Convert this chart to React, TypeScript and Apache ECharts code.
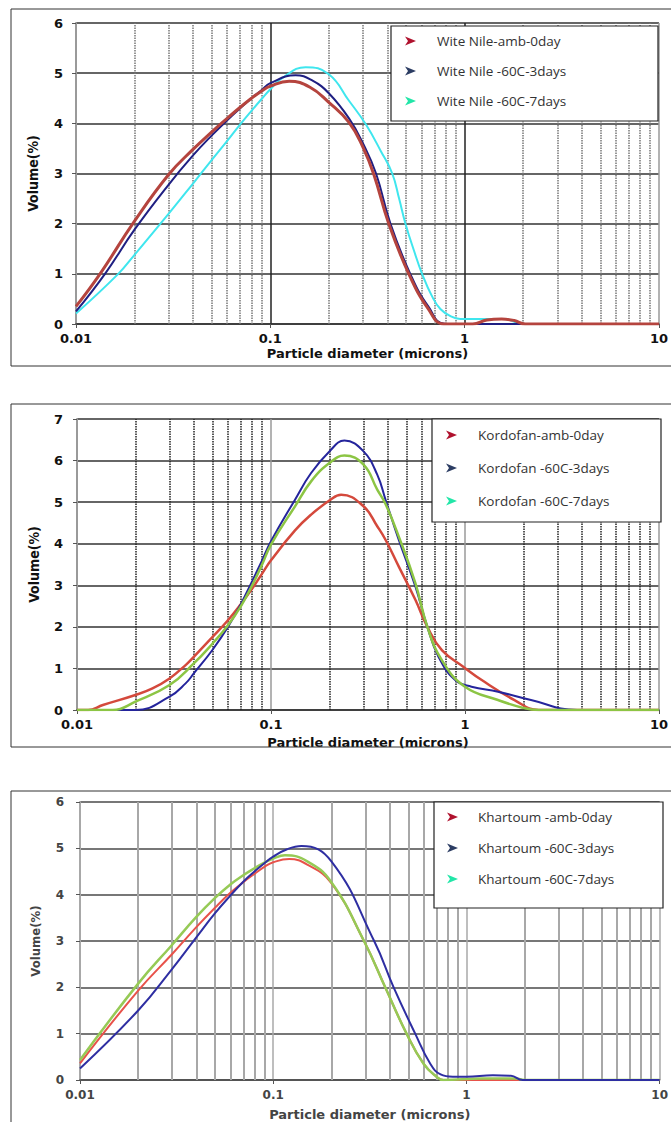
import React, { useEffect, useRef } from 'react';
import * as echarts from 'echarts';

// ---------- shared axis data ----------
const xTickLabels = ['0.01', '0.1', '1', '10'];
const minorTicks = [0.02, 0.03, 0.04, 0.05, 0.06, 0.07, 0.08, 0.09, 0.2, 0.3, 0.4, 0.5, 0.6, 0.7, 0.8, 0.9, 2, 3, 4, 5, 6, 7, 8, 9];
const legendArrowColors = ['#b0122e', '#2c3d63', '#22e6a8'];

// ---------- Panel 1: Wite Nile ----------
const wnNames = ['Wite Nile-amb-0day', 'Wite Nile -60C-3days', 'Wite Nile -60C-7days'];
const wnAmbX = [0.01, 0.0133, 0.02, 0.03, 0.04, 0.05, 0.06, 0.07, 0.08, 0.09, 0.1, 0.125, 0.16, 0.2, 0.254, 0.3, 0.341, 0.407, 0.516, 0.65, 0.78, 1.1, 1.3, 1.55, 1.8, 2.05, 10];
const wnAmbY = [0.35, 1.0, 2.05, 2.98, 3.48, 3.83, 4.1, 4.32, 4.5, 4.64, 4.74, 4.84, 4.72, 4.42, 4.02, 3.52, 2.98, 2.0, 1.0, 0.3, 0, 0, 0.08, 0.1, 0.07, 0, 0];
const wn3X = [0.01, 0.0141, 0.02, 0.03, 0.04, 0.05, 0.06, 0.07, 0.08, 0.09, 0.1, 0.135, 0.165, 0.2, 0.254, 0.3, 0.35, 0.415, 0.525, 0.65, 0.8, 10];
const wn3Y = [0.25, 1.0, 1.88, 2.78, 3.36, 3.76, 4.06, 4.3, 4.5, 4.66, 4.8, 4.96, 4.85, 4.6, 4.1, 3.6, 3.0, 2.0, 1.0, 0.35, 0, 0];
const wn7X = [0.01, 0.0165, 0.02, 0.03, 0.04, 0.05, 0.06, 0.07, 0.08, 0.09, 0.1, 0.115, 0.152, 0.2, 0.254, 0.31, 0.37, 0.424, 0.46, 0.496, 0.55, 0.604, 0.68, 0.75, 0.85, 0.95, 1.2, 1.6, 2.0, 10];
const wn7Y = [0.21, 1.0, 1.38, 2.2, 2.8, 3.27, 3.65, 3.98, 4.25, 4.48, 4.68, 4.9, 5.12, 4.98, 4.45, 3.98, 3.45, 3.0, 2.5, 2.0, 1.45, 1.0, 0.55, 0.3, 0.15, 0.1, 0.1, 0.1, 0, 0];

// ---------- Panel 2: Kordofan ----------
const kdNames = ['Kordofan-amb-0day', 'Kordofan -60C-3days', 'Kordofan -60C-7days'];
const kdAmbX = [0.01, 0.0114, 0.0136, 0.02, 0.0245, 0.03, 0.0363, 0.04, 0.05, 0.06, 0.07, 0.08, 0.09, 0.1, 0.133, 0.161, 0.2, 0.23, 0.3, 0.353, 0.39, 0.456, 0.555, 0.64, 0.76, 0.98, 1.22, 1.8, 2.4, 10];
const kdAmbY = [0, 0, 0.12, 0.36, 0.52, 0.76, 1.08, 1.28, 1.76, 2.16, 2.55, 2.92, 3.28, 3.6, 4.32, 4.7, 5.04, 5.18, 4.9, 4.42, 4.09, 3.45, 2.65, 2.0, 1.44, 1.04, 0.72, 0.24, 0, 0];
const kd3X = [0.01, 0.02, 0.03, 0.0363, 0.04, 0.05, 0.06, 0.07, 0.08, 0.09, 0.1, 0.133, 0.161, 0.2, 0.239, 0.3, 0.353, 0.39, 0.456, 0.555, 0.64, 0.73, 0.89, 1.08, 1.48, 2.19, 3.79, 10];
const kd3Y = [0, 0, 0.32, 0.64, 0.88, 1.45, 2.0, 2.55, 3.1, 3.6, 4.06, 5.06, 5.7, 6.22, 6.48, 6.22, 5.66, 5.05, 4.09, 2.97, 2.0, 1.28, 0.72, 0.56, 0.44, 0.24, 0, 0];
const kd7X = [0.01, 0.0153, 0.02, 0.03, 0.04, 0.05, 0.06, 0.07, 0.08, 0.09, 0.1, 0.133, 0.161, 0.2, 0.239, 0.3, 0.353, 0.39, 0.456, 0.555, 0.64, 0.76, 1.0, 1.48, 2.0, 2.4, 10];
const kd7Y = [0, 0, 0.2, 0.6, 1.12, 1.6, 2.04, 2.5, 3.0, 3.5, 3.98, 4.9, 5.5, 5.94, 6.12, 5.9, 5.3, 4.95, 4.17, 3.05, 2.0, 1.2, 0.56, 0.24, 0.05, 0, 0];

// ---------- Panel 3: Khartoum ----------
const khNames = ['Khartoum -amb-0day', 'Khartoum -60C-3days', 'Khartoum -60C-7days'];
const khAmbX = [0.01, 0.02, 0.03, 0.04, 0.05, 0.06, 0.07, 0.08, 0.09, 0.1, 0.121, 0.15, 0.2, 0.295, 0.38, 0.49, 0.6, 0.7, 0.76, 10];
const khAmbY = [0.36, 1.93, 2.72, 3.3, 3.72, 4.04, 4.27, 4.45, 4.6, 4.7, 4.77, 4.65, 4.25, 3.0, 2.0, 1.0, 0.35, 0.07, 0, 0];
const kh3X = [0.01, 0.02, 0.03, 0.04, 0.05, 0.06, 0.07, 0.08, 0.09, 0.1, 0.118, 0.14, 0.2, 0.333, 0.42, 0.543, 0.65, 0.735, 0.85, 1.0, 1.37, 1.7, 1.95, 10];
const kh3Y = [0.25, 1.5, 2.4, 3.08, 3.6, 3.98, 4.28, 4.5, 4.68, 4.82, 4.98, 5.05, 4.72, 3.0, 2.0, 1.0, 0.35, 0.12, 0.07, 0.07, 0.1, 0.09, 0, 0];
const kh7X = [0.01, 0.02, 0.03, 0.04, 0.05, 0.06, 0.07, 0.08, 0.09, 0.1, 0.115, 0.15, 0.2, 0.295, 0.38, 0.49, 0.6, 0.7, 0.76, 1.2, 1.8, 2.0, 10];
const kh7Y = [0.43, 2.08, 2.92, 3.52, 3.93, 4.22, 4.42, 4.57, 4.69, 4.78, 4.85, 4.72, 4.27, 3.0, 2.0, 1.0, 0.35, 0.07, 0, 0.03, 0.03, 0, 0];

const zip = (xs: number[], ys: number[]) => xs.map((x, i) => [x, ys[i]]);

type Panel = {
  grid: { left: number; top: number; width: number; height: number };
  yMax: number;
  names: string[];
  data: number[][][];
  colors: string[];
  widths: number[];
  drawOrder: number[];
  box: { x: number; y: number; w: number; h: number };
  legendBox: { x: number; y: number; w: number; h: number };
  legendPos: { left: number; top: number; itemGap: number; textPad: number };
  hGrid: string;
  vMajor: string[];
  minor: { color: string; type: any; width: number };
  yAxisLine: string;
  labelColor: string;
  labelSize: number;
  xLabelMargin: number;
  yLabelMargin: number;
  xNameGap: number;
  yNameGap: number;
};

const panels: Panel[] = [
  {
    grid: { left: 76, top: 23, width: 584, height: 301 },
    yMax: 6,
    names: wnNames,
    data: [zip(wnAmbX, wnAmbY), zip(wn3X, wn3Y), zip(wn7X, wn7Y)],
    colors: ['#b5443e', '#1f1f82', '#3fe6ee'],
    widths: [3, 2, 2],
    drawOrder: [2, 1, 0],
    box: { x: 11, y: 9, w: 665, h: 357 },
    legendBox: { x: 391, y: 26, w: 267, h: 95 },
    legendPos: { left: 405, top: 33, itemGap: 14, textPad: 16 },
    hGrid: '#333333',
    vMajor: ['#9a9a9a', '#222222', '#222222', '#9a9a9a'],
    minor: { color: '#777777', type: [1.5, 1], width: 1.5 },
    yAxisLine: '#9a9a9a',
    labelColor: '#111111',
    labelSize: 13,
    xLabelMargin: 8,
    yLabelMargin: 13,
    xNameGap: 23,
    yNameGap: 36,
  },
  {
    grid: { left: 77, top: 419, width: 583, height: 291 },
    yMax: 7,
    names: kdNames,
    data: [zip(kdAmbX, kdAmbY), zip(kd3X, kd3Y), zip(kd7X, kd7Y)],
    colors: ['#d4493c', '#24249c', '#8cc544'],
    widths: [2.5, 2, 2.5],
    drawOrder: [0, 1, 2],
    box: { x: 11, y: 404, w: 665, h: 343 },
    legendBox: { x: 432, y: 419, w: 229, h: 103 },
    legendPos: { left: 446, top: 427, itemGap: 17, textPad: 16 },
    hGrid: '#333333',
    vMajor: ['#9a9a9a', '#9a9a9a', '#9a9a9a', '#9a9a9a'],
    minor: { color: '#222222', type: [1.5, 1], width: 1.5 },
    yAxisLine: '#9a9a9a',
    labelColor: '#111111',
    labelSize: 13,
    xLabelMargin: 8,
    yLabelMargin: 14,
    xNameGap: 26,
    yNameGap: 36,
  },
  {
    grid: { left: 80, top: 802, width: 583, height: 280 },
    yMax: 6,
    names: khNames,
    data: [zip(khAmbX, khAmbY), zip(kh3X, kh3Y), zip(kh7X, kh7Y)],
    colors: ['#e8524a', '#2e2ea2', '#96ca56'],
    widths: [2, 2, 2.5],
    drawOrder: [0, 2, 1],
    box: { x: 11, y: 791, w: 665, h: 340 },
    legendBox: { x: 434, y: 802, w: 229, h: 106 },
    legendPos: { left: 447, top: 809, itemGap: 15, textPad: 15 },
    hGrid: '#4a4a4a',
    vMajor: ['#a8a8a8', '#a8a8a8', '#a8a8a8', '#a8a8a8'],
    minor: { color: '#a8a8a8', type: 'solid', width: 2 },
    yAxisLine: '#a8a8a8',
    labelColor: '#444444',
    labelSize: 12,
    xLabelMargin: 9,
    yLabelMargin: 16,
    xNameGap: 28,
    yNameGap: 38,
  },
];

const arrowIcon = 'path://M0,0 L11,4.5 L0,9 L3,4.5 Z';

function buildOption() {
  const grid: any[] = [];
  const xAxis: any[] = [];
  const yAxis: any[] = [];
  const series: any[] = [];
  const legend: any[] = [];
  const elements: any[] = [];

  panels.forEach((p, pi) => {
    grid.push({ ...p.grid, containLabel: false });
    xAxis.push({
      type: 'log',
      logBase: 10,
      min: 0.01,
      max: 10,
      gridIndex: pi,
      axisLine: { show: true, lineStyle: { color: p.hGrid, width: 1.5 } },
      axisTick: { show: true, length: 4, lineStyle: { color: '#555' } },
      axisLabel: {
        margin: p.xLabelMargin,
        fontFamily: 'DejaVu Sans',
        fontWeight: 'bold',
        fontSize: p.labelSize,
        color: p.labelColor,
        formatter: (v: number) => xTickLabels[Math.round(Math.log10(v)) + 2] ?? '',
      },
      splitLine: { show: true, lineStyle: { color: p.vMajor, width: 1.5 } },
      name: 'Particle diameter (microns)',
      nameLocation: 'middle',
      nameGap: p.xNameGap,
      nameTextStyle: {
        fontFamily: 'DejaVu Sans',
        fontWeight: 'bold',
        fontSize: 13,
        color: p.labelColor,
      },
    });
    yAxis.push({
      type: 'value',
      min: 0,
      max: p.yMax,
      interval: 1,
      gridIndex: pi,
      axisLine: { show: true, lineStyle: { color: p.yAxisLine, width: 2 } },
      axisTick: { show: true, length: 4, lineStyle: { color: '#555' } },
      axisLabel: {
        margin: p.yLabelMargin,
        fontFamily: 'DejaVu Sans',
        fontWeight: 'bold',
        fontSize: p.labelSize,
        color: p.labelColor,
      },
      splitLine: { show: true, lineStyle: { color: p.hGrid, width: 1.5 } },
      name: 'Volume(%)',
      nameLocation: 'middle',
      nameGap: p.yNameGap,
      nameTextStyle: {
        fontFamily: 'DejaVu Sans Condensed',
        fontWeight: 'bold',
        fontSize: pi === 2 ? 13 : 14,
        color: p.labelColor,
      },
    });
    // minor log grid lines
    series.push({
      type: 'line',
      name: 'minor-' + pi,
      xAxisIndex: pi,
      yAxisIndex: pi,
      data: [],
      z: 1,
      silent: true,
      markLine: {
        silent: true,
        z: 1,
        symbol: ['none', 'none'],
        label: { show: false },
        lineStyle: { color: p.minor.color, type: p.minor.type, width: p.minor.width },
        data: minorTicks.map((v) => ({ xAxis: v })),
      },
    });
    p.drawOrder.forEach((si) => {
      series.push({
        type: 'line',
        name: p.names[si],
        xAxisIndex: pi,
        yAxisIndex: pi,
        data: p.data[si],
        smooth: 0.45,
        showSymbol: false,
        symbol: 'none',
        lineStyle: { color: p.colors[si], width: p.widths[si] },
        itemStyle: { color: p.colors[si] },
        z: 2,
      });
    });
    legend.push({
      orient: 'vertical',
      left: p.legendPos.left,
      top: p.legendPos.top,
      padding: 0,
      itemWidth: 11,
      itemHeight: 9,
      itemGap: p.legendPos.itemGap,
      icon: arrowIcon,
      selectedMode: false,
      z: 6,
      textStyle: {
        fontFamily: 'Open Sans',
        fontSize: 13.5,
        color: '#333333',
        lineHeight: 16,
        padding: [0, 0, 0, p.legendPos.textPad],
      },
      itemStyle: { borderWidth: 0 },
      data: p.names.map((n, i) => ({ name: n, itemStyle: { color: legendArrowColors[i], borderWidth: 0 } })),
    });
    elements.push({
      type: 'rect',
      shape: { x: p.box.x, y: p.box.y, width: p.box.w, height: p.box.h },
      style: { fill: 'none', stroke: '#333', lineWidth: 1 },
      z: 3,
      silent: true,
    });
    elements.push({
      type: 'rect',
      shape: { x: p.legendBox.x, y: p.legendBox.y, width: p.legendBox.w, height: p.legendBox.h },
      style: { fill: '#ffffff', stroke: '#222', lineWidth: 1.2 },
      z: 3,
      silent: true,
    });
  });

  return {
    animation: false,
    backgroundColor: '#ffffff',
    grid,
    xAxis,
    yAxis,
    series,
    legend,
    graphic: { elements },
  };
}

export default function App() {
  const ref = useRef<HTMLDivElement>(null);
  useEffect(() => {
    document.body.style.margin = '0';
    if (!ref.current) return;
    const chart = echarts.init(ref.current, undefined, { renderer: 'svg' });
    chart.setOption(buildOption() as any);
    return () => chart.dispose();
  }, []);
  return <div ref={ref} style={{ width: 671, height: 1122 }} />;
}
